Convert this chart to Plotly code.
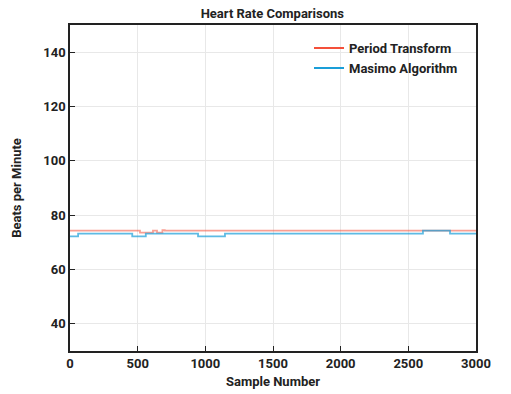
import plotly.graph_objects as go

# Step data: sample index where value changes, and value
period_x = [0, 517, 613, 643, 683, 700, 2608, 2808, 3000]
period_y = [74.3, 73.6, 74.3, 73.6, 74.5, 74.3, 74.3, 74.3, 74.3]

masimo_x = [0, 60, 460, 560, 946, 1145, 2608, 2808, 3000]
masimo_y = [72.2, 73.2, 72.2, 73.2, 72.2, 73.2, 74.3, 73.2, 73.2]

x_ticks = [0, 500, 1000, 1500, 2000, 2500, 3000]
y_ticks = [40, 60, 80, 100, 120, 140]

font_family = "Roboto"
bold = dict(family=font_family, size=13, color="#222", weight="bold")

red = "#f4503a"
blue = "#1a9ed8"

fig = go.Figure()
fig.add_trace(go.Scatter(x=period_x, y=period_y, mode="lines", line_shape="hv",
                         name="Period Transform", legendgroup="p", showlegend=False,
                         line=dict(color="rgba(244,80,58,0.55)", width=1.8)))
fig.add_trace(go.Scatter(x=masimo_x, y=masimo_y, mode="lines", line_shape="hv",
                         name="Masimo Algorithm", legendgroup="m", showlegend=False,
                         line=dict(color="rgba(26,158,216,0.7)", width=1.8)))
# legend entries at full colour
fig.add_trace(go.Scatter(x=[None], y=[None], mode="lines", name="Period Transform",
                         legendgroup="p", line=dict(color=red, width=2)))
fig.add_trace(go.Scatter(x=[None], y=[None], mode="lines", name="Masimo Algorithm",
                         legendgroup="m", line=dict(color=blue, width=2)))

axis_common = dict(showline=True, linecolor="#222", linewidth=1.5, mirror=True,
                   ticks="inside", ticklen=5, tickcolor="#222",
                   showgrid=True, gridcolor="#e8e8e8", gridwidth=1, zeroline=False,
                   tickfont=bold, automargin=False)

fig.update_xaxes(range=[0, 3000], tickvals=x_ticks,
                 title=dict(text="Sample Number", font=bold, standoff=7),
                 **axis_common)
fig.update_yaxes(range=[30, 150], tickvals=y_ticks,
                 title=dict(text="Beats per Minute", font=bold, standoff=19),
                 **axis_common)

fig.update_layout(
    width=511, height=394,
    margin=dict(l=70, r=35, t=25, b=43),
    paper_bgcolor="white", plot_bgcolor="white",
    title=dict(text="Heart Rate Comparisons", x=0.533, xanchor="center", y=0.967, yanchor="middle",
               font=bold),
    font=bold,
    legend=dict(x=0.968, y=0.975, xanchor="right", yanchor="top", bgcolor="rgba(255,255,255,0)",
                font=dict(family=font_family, size=13, color="#222", weight="bold"), tracegroupgap=0),
)

fig.write_html("out.html", config={"displayModeBar": False},
               post_script="document.body.style.margin='0';")
